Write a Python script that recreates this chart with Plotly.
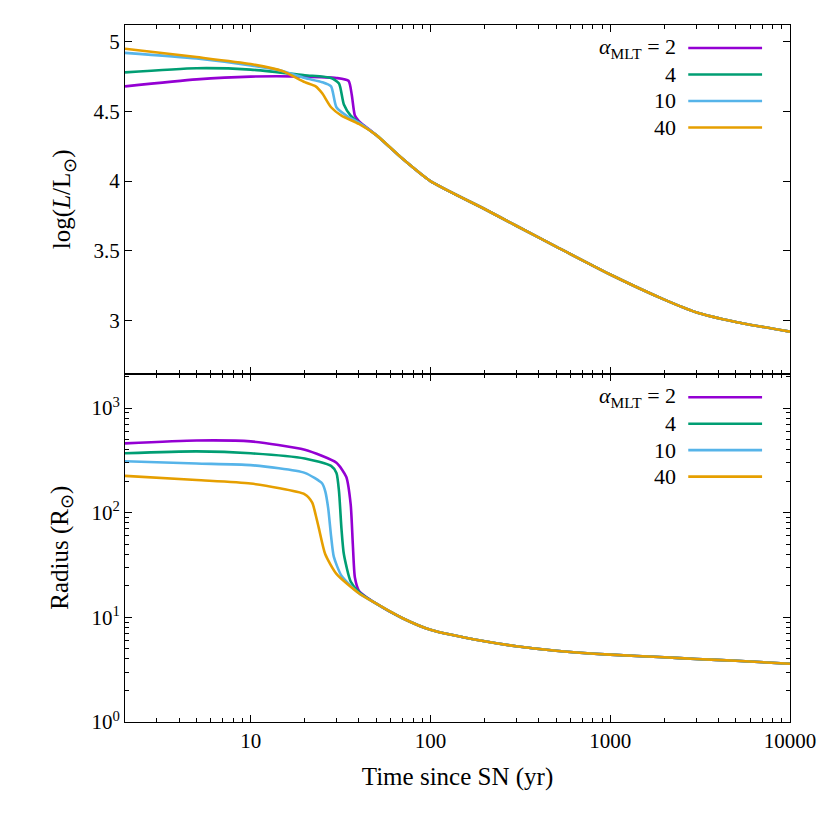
import plotly.graph_objects as go
from plotly.subplots import make_subplots

labels = ["2", "4", "10", "40"]
colors = ["#9400d3", "#009e73", "#56b4e9", "#e69f00"]
common_t = [50, 70, 100, 200, 300, 500, 1000, 2000, 3000, 5000, 10000]
common_L = [4.33, 4.16, 4.0, 3.80, 3.68, 3.53, 3.33, 3.15, 3.06, 2.99, 2.92]
common_R = [13.5, 9.8, 7.6, 5.9, 5.3, 4.8, 4.4, 4.15, 4.0, 3.85, 3.6]

t_L = [
    [2, 5, 10, 20, 30, 35, 36.5, 38, 40],
    [2, 5, 10, 20, 28, 31, 33, 36, 40],
    [2, 5, 10, 15, 20, 25, 28, 30, 35, 40],
    [2, 5, 10, 15, 20, 23, 25, 28, 32, 40],
]
L_vals = [
    [4.68, 4.73, 4.75, 4.75, 4.74, 4.72, 4.62, 4.47, 4.43],
    [4.78, 4.81, 4.80, 4.76, 4.74, 4.70, 4.55, 4.47, 4.42],
    [4.92, 4.88, 4.83, 4.79, 4.74, 4.71, 4.68, 4.53, 4.46, 4.42],
    [4.95, 4.89, 4.84, 4.79, 4.71, 4.68, 4.63, 4.53, 4.47, 4.41],
]
t_R = [
    [2, 5, 10, 20, 30, 34, 36, 37, 38, 40],
    [2, 5, 10, 20, 28, 30, 31, 32, 33, 36, 40],
    [2, 5, 10, 20, 25, 26, 27, 28, 29, 32, 40],
    [2, 5, 10, 20, 22, 23, 24, 26, 30, 40],
]
R_vals = [
    [460, 490, 480, 400, 300, 220, 120, 50, 24, 18],
    [370, 385, 370, 330, 280, 240, 160, 70, 40, 22, 17.5],
    [310, 295, 285, 240, 190, 160, 110, 60, 38, 25, 17],
    [225, 205, 190, 150, 125, 95, 70, 40, 26, 17],
]

fig = make_subplots(rows=2, cols=1, shared_xaxes=True, vertical_spacing=0)
for i in range(4):
    fig.add_trace(go.Scatter(x=t_L[i] + common_t, y=L_vals[i] + common_L, mode="lines",
                             line=dict(color=colors[i], width=2.6, shape="spline", smoothing=0.6),
                             showlegend=False), 1, 1)
    fig.add_trace(go.Scatter(x=t_R[i] + common_t, y=R_vals[i] + common_R, mode="lines",
                             line=dict(color=colors[i], width=2.6, shape="spline", smoothing=0.6),
                             showlegend=False), 2, 1)

ax = dict(showline=True, mirror="allticks", linecolor="black", ticks="inside", ticklen=7,
          tickcolor="black", showgrid=False, zeroline=False)
fig.update_xaxes(type="log", range=[0.301, 4], tickvals=[10, 100, 1000, 10000],
                 ticktext=["10", "100", "1000", "10000"],
                 minor=dict(ticks="inside", ticklen=4, tickcolor="black", dtick="D1"), **ax)
fig.update_xaxes(title_text="Time since SN (yr)", row=2, col=1)
fig.update_yaxes(range=[2.62, 5.12], tickvals=[3, 3.5, 4, 4.5, 5],
                 ticktext=["3", "3.5", "4", "4.5", "5"],
                 title_text="log(<i>L</i>/L<sub>⊙</sub>)", row=1, col=1, **ax)
fig.update_yaxes(type="log", range=[0, 3.33], tickvals=[1, 10, 100, 1000],
                 ticktext=["10<sup>0</sup>", "10<sup>1</sup>", "10<sup>2</sup>", "10<sup>3</sup>"],
                 minor=dict(ticks="inside", ticklen=4, tickcolor="black", dtick="D1"),
                 title_text="Radius (R<sub>⊙</sub>)", row=2, col=1, **ax)

for y0 in [0.967, 0.466]:
    for i, lab in enumerate(labels):
        y = y0 - i * 0.038
        txt = "<i>α</i><sub>MLT</sub> = 2" if i == 0 else lab
        fig.add_annotation(x=0.832, y=y, xref="paper", yref="paper", text=txt, showarrow=False,
                           xanchor="right", yanchor="middle", font=dict(size=22))
        fig.add_shape(type="line", xref="paper", yref="paper", x0=0.847, x1=0.958, y0=y, y1=y,
                      line=dict(color=colors[i], width=2.6))

fig.update_layout(width=830, height=830, plot_bgcolor="white", paper_bgcolor="white",
                  margin=dict(l=117, r=48, t=17, b=116),
                  font=dict(family="Liberation Serif", size=21, color="black"))
fig.write_html("out.html")
